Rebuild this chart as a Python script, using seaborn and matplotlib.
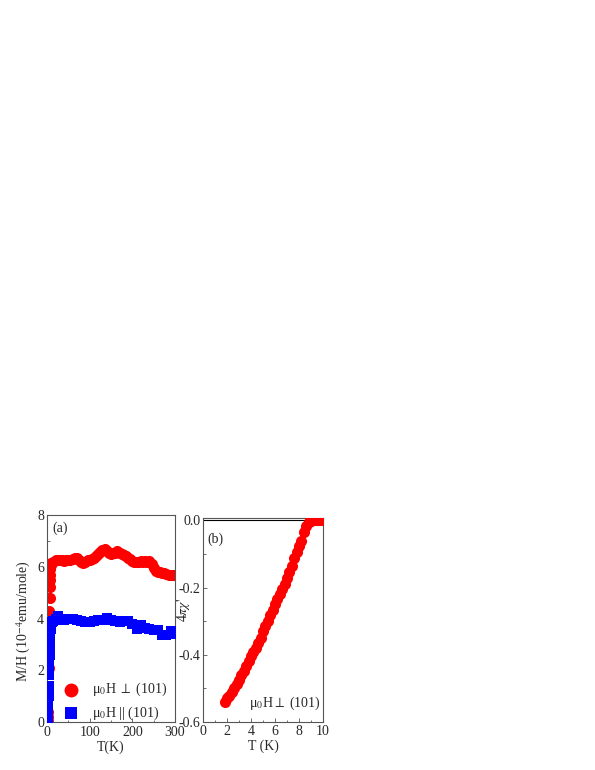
import numpy as np
import pandas as pd
import matplotlib
matplotlib.use('Agg')
import matplotlib.pyplot as plt
import seaborn as sns
from matplotlib.ticker import MultipleLocator, FuncFormatter

sns.set_style('ticks')
plt.rcParams['font.family'] = ['Liberation Serif', 'DejaVu Serif']
plt.rcParams['mathtext.fontset'] = 'stix'
plt.rcParams['font.size'] = 10

# panel (a): M/H vs T, field perpendicular to (101)
T_perp = [2, 2.5, 3, 3.5, 4, 4.5, 5, 5.5, 6, 6.5, 7, 7.5, 8, 9, 10, 15, 20, 25, 30, 35, 40, 45,
          50, 55, 60, 65, 70, 75, 80, 85, 90, 95, 100, 105, 110, 115, 120, 125, 130, 135,
          140, 145, 150, 155, 160, 165, 170, 175, 180, 185, 190, 195, 200, 205, 210, 215,
          220, 225, 230, 235, 240, 245, 250, 255, 260, 265, 270, 275, 280, 285, 290, 295, 300]
MH_perp = [0.05, 0.2, 0.4, 1.0, 2.1, 3.0, 3.8, 4.3, 4.8, 5.2, 5.5, 5.7, 5.9, 6.05, 6.15, 6.2, 6.25, 6.25, 6.28, 6.25, 6.22, 6.25,
           6.26, 6.28, 6.3, 6.32, 6.33, 6.25, 6.2, 6.13, 6.2, 6.25, 6.28, 6.3, 6.35, 6.42, 6.5, 6.58, 6.65, 6.68,
           6.62, 6.55, 6.5, 6.52, 6.55, 6.6, 6.55, 6.5, 6.45, 6.42, 6.35, 6.3, 6.22, 6.2, 6.18, 6.2,
           6.22, 6.2, 6.22, 6.2, 6.22, 6.1, 5.95, 5.85, 5.8, 5.78, 5.76, 5.74, 5.72, 5.7, 5.7, 5.68, 5.67]

# panel (a): M/H vs T, field parallel to (101)
T_par = [2, 2.5, 3, 3.5, 4, 4.5, 5, 5.5, 6, 6.5, 7, 7.5, 8, 9, 10, 12, 15, 20, 25, 30, 40, 50,
         60, 70, 80, 90, 100, 110, 120, 130, 140, 150, 160, 170, 180, 190, 200, 210, 220,
         230, 240, 250, 260, 270, 280, 290, 300]
MH_par = [0.0, 0.25, 0.5, 0.75, 1.0, 1.4, 1.8, 2.2, 2.6, 2.9, 3.2, 3.35, 3.5, 3.6, 3.7, 3.85, 3.9, 4.0, 4.08, 3.95, 3.95, 4.0,
          3.98, 3.95, 3.92, 3.88, 3.87, 3.9, 3.95, 3.95, 4.02, 3.95, 3.92, 3.88, 3.9, 3.9, 3.8, 3.58, 3.75,
          3.65, 3.6, 3.55, 3.55, 3.38, 3.35, 3.5, 3.42]

# panel (b): ac susceptibility
T_ac = [1.8, 2.0, 2.2, 2.4, 2.6, 2.8, 3.0, 3.2, 3.4, 3.6, 3.8, 4.0, 4.2, 4.4, 4.6, 4.8,
        5.0, 5.2, 5.4, 5.6, 5.8, 6.0, 6.2, 6.4, 6.6, 6.8, 7.0, 7.2, 7.4, 7.6, 7.8, 8.0,
        8.2, 8.4, 8.6, 8.8, 9.0, 9.2, 9.4, 9.6, 9.8]
chi_ac = [-0.540, -0.530, -0.522, -0.512, -0.500, -0.488, -0.474, -0.460, -0.447, -0.433,
          -0.418, -0.403, -0.392, -0.380, -0.365, -0.350, -0.330, -0.315, -0.298, -0.283,
          -0.266, -0.250, -0.235, -0.220, -0.205, -0.188, -0.172, -0.155, -0.135, -0.112,
          -0.095, -0.075, -0.062, -0.035, -0.018, -0.006, -0.002, 0.000, 0.002, 0.001, 0.000]

red = '#ff0000'
blue = '#0000ff'
frame = '#555555'

fig = plt.figure(figsize=(5.95, 7.7), dpi=100)
ax1 = fig.add_axes([47/595, 1-722/770, 128/595, 207/770])
ax2 = fig.add_axes([203/595, 1-722/770, 120/595, 204/770])

sns.scatterplot(x=T_perp, y=MH_perp, ax=ax1, color=red, marker='o', s=64,
                linewidth=0, label=r'μ$_0$H $\perp$ (101)', zorder=2)
sns.scatterplot(x=T_par, y=MH_par, ax=ax1, color=blue, marker='s', s=50,
                linewidth=0, label=r'μ$_0$H || (101)', zorder=3)
ax1.set_xlim(0, 300)
ax1.set_ylim(0, 8)
ax1.xaxis.set_major_locator(MultipleLocator(100))
ax1.xaxis.set_minor_locator(MultipleLocator(50))
ax1.yaxis.set_major_locator(MultipleLocator(2))
ax1.yaxis.set_minor_locator(MultipleLocator(1))
ax1.set_xlabel('T(K)', labelpad=1)
ax1.set_ylabel(r'M/H (10$^{-4}$emu/mole)')
ax1.yaxis.set_label_coords(-0.11, 0.49)
ax1.text(0.04, 0.97, '(a)', transform=ax1.transAxes, va='top', ha='left')
ax1.legend(loc='lower left', bbox_to_anchor=(-0.02, -0.06), frameon=False,
           handletextpad=0.5, labelspacing=0.45, fontsize=10, markerscale=1.25)

sns.scatterplot(x=T_ac, y=chi_ac, ax=ax2, color=red, marker='o', s=64,
                linewidth=0, zorder=3)
ax2.axhline(0, color='black', lw=0.8, zorder=1)
ax2.set_xlim(0, 10)
ax2.set_ylim(-0.6, 0.007)
ax2.xaxis.set_major_locator(MultipleLocator(2))
ax2.xaxis.set_minor_locator(MultipleLocator(1))
ax2.yaxis.set_major_locator(MultipleLocator(0.2))
ax2.yaxis.set_minor_locator(MultipleLocator(0.1))
ax2.yaxis.set_major_formatter(FuncFormatter(lambda v, p: f'{v:.1f}'.replace('−', '-')))
ax2.set_xlabel('T (K)', labelpad=1)
ax2.set_ylabel("4$\\pi\\chi$'")
ax2.yaxis.set_label_coords(-0.09, 0.55)
ax2.text(0.04, 0.93, '(b)', transform=ax2.transAxes, va='top', ha='left')
ax2.text(3.8, -0.545, r'μ$_0$H$\perp$ (101)', va='center', ha='left', fontsize=10)

for ax in (ax1, ax2):
    ax.tick_params(which='both', direction='in', top=False, right=False,
                   color=frame, labelsize=10, pad=2)
    ax.tick_params(which='major', length=3, width=0.6)
    ax.tick_params(which='minor', length=1.8, width=0.6)
    for sp in ax.spines.values():
        sp.set_visible(True)
        sp.set_color(frame)
        sp.set_linewidth(0.8)
ax1.tick_params(axis='x', pad=3)

fig.savefig('out.png', dpi=100)
